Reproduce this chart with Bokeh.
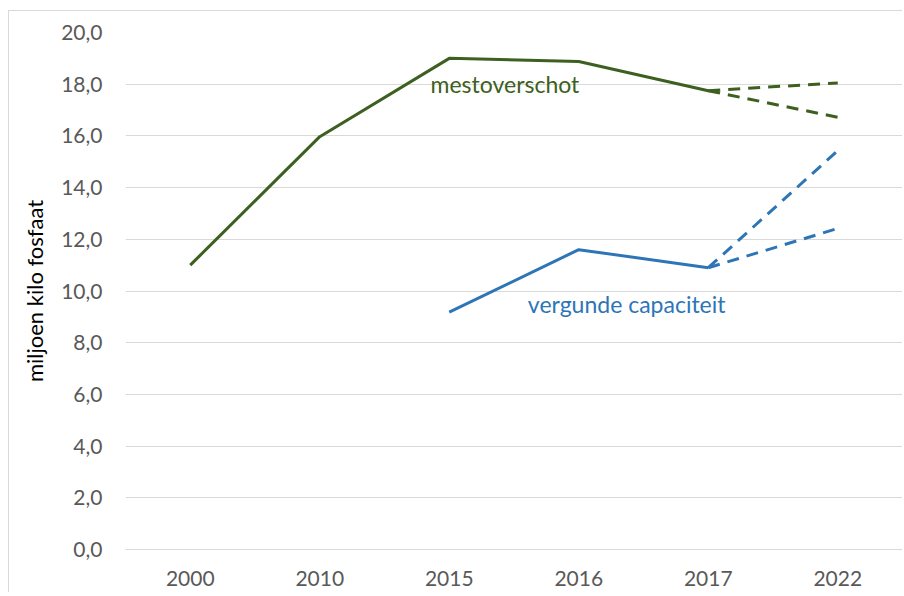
from bokeh.plotting import figure
from bokeh.models import Range1d, FixedTicker, CustomJSTickFormatter
from bokeh.core.properties import value
from bokeh.embed import file_html
from bokeh.resources import INLINE

# ---- data ----
years = ["2000", "2010", "2015", "2016", "2017", "2022"]
mest_years = ["2000", "2010", "2015", "2016", "2017"]
mest_values = [11.0, 15.97, 19.0, 18.88, 17.75]
mest_2022_high = 18.05
mest_2022_low = 16.72
cap_years = ["2015", "2016", "2017"]
cap_values = [9.18, 11.6, 10.9]
cap_2022_high = 15.43
cap_2022_low = 12.42
y_ticks = [0, 2, 4, 6, 8, 10, 12, 14, 16, 18, 20]

GREEN = "#3d5f20"
BLUE = "#2e75b6"
GRID = "#d9d9d9"
FONT = "Lato"

idx = {y: i for i, y in enumerate(years)}

p = figure(width=902, height=592, output_backend="svg", toolbar_location=None,
           x_range=Range1d(-0.5, 5.5), y_range=Range1d(0, 20),
           min_border_left=125, min_border_right=0, min_border_top=32, min_border_bottom=43)
p.outline_line_color = None
p.background_fill_color = "white"
p.border_fill_color = None

# outer chart border (light grey lines on the left and top, drawn as CSS background)
p.styles = {
    "background-color": "white",
    "background-image": "linear-gradient(#d9d9d9, #d9d9d9), linear-gradient(#d9d9d9, #d9d9d9)",
    "background-position": "8px 10px, 8px 10px",
    "background-size": "1px 100%, 100% 1px",
    "background-repeat": "no-repeat, no-repeat",
}

# axes
p.xaxis.ticker = FixedTicker(ticks=list(range(len(years))))
p.xaxis.major_label_overrides = {i: y for i, y in enumerate(years)}
p.xaxis.axis_line_color = GRID
p.xaxis.major_tick_line_color = None
p.xaxis.minor_tick_line_color = None
p.xaxis.major_tick_out = 0
p.xaxis.major_label_standoff = 21
p.xaxis.major_label_text_font = FONT
p.xaxis.major_label_text_font_size = "21px"
p.xaxis.major_label_text_color = "#595959"

p.yaxis.ticker = FixedTicker(ticks=y_ticks)
p.yaxis.formatter = CustomJSTickFormatter(code="return tick.toFixed(1).replace('.', ',');")
p.yaxis.axis_line_color = None
p.yaxis.major_tick_line_color = None
p.yaxis.minor_tick_line_color = None
p.yaxis.major_tick_out = 0
p.yaxis.major_label_standoff = 23
p.yaxis.major_label_text_font = FONT
p.yaxis.major_label_text_font_size = "21px"
p.yaxis.major_label_text_color = "#595959"
p.yaxis.axis_label = "miljoen kilo fosfaat"
p.yaxis.axis_label_text_font = FONT
p.yaxis.axis_label_text_font_size = "22px"
p.yaxis.axis_label_text_font_style = "normal"
p.yaxis.axis_label_text_color = "#000000"
p.yaxis.axis_label_standoff = 10

p.xgrid.grid_line_color = None
p.ygrid.grid_line_color = GRID
p.ygrid.grid_line_width = 1

# mestoverschot
p.line([idx[y] for y in mest_years], mest_values, line_color=GREEN, line_width=3)
for v in (mest_2022_high, mest_2022_low):
    p.line([idx["2017"], idx["2022"]], [mest_values[-1], v], line_color=GREEN,
           line_width=3, line_dash="12 8")

# vergunde capaciteit
p.line([idx[y] for y in cap_years], cap_values, line_color=BLUE, line_width=3)
for v in (cap_2022_high, cap_2022_low):
    p.line([idx["2017"], idx["2022"]], [cap_values[-1], v], line_color=BLUE,
           line_width=3, line_dash="12 8")

# labels
p.text(x=[2.43], y=[17.99], text=["mestoverschot"], text_color=GREEN,
       text_font=value(FONT), text_font_size="23px", text_align="center",
       text_baseline="middle")
p.text(x=[3.37], y=[9.48], text=["vergunde capaciteit"], text_color=BLUE,
       text_font=value(FONT), text_font_size="23px", text_align="center",
       text_baseline="middle")

open("out.html", "w").write(file_html(p, INLINE))
